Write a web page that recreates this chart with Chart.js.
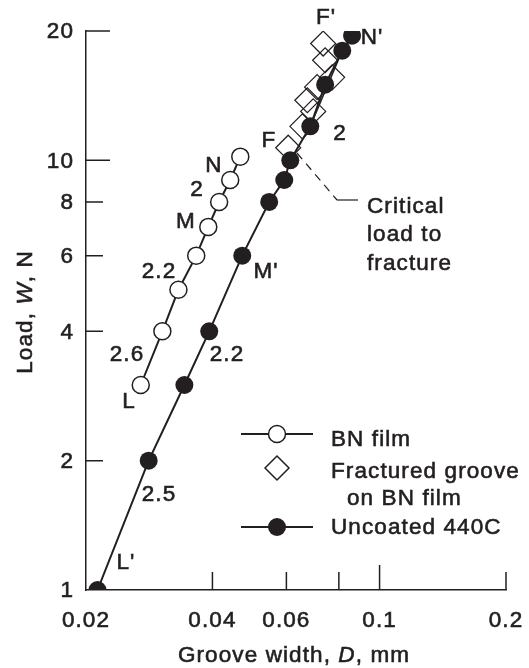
<!DOCTYPE html>
<html>
<head>
<meta charset="utf-8">
<script src="https://cdn.jsdelivr.net/npm/chart.js@4.4.1/dist/chart.umd.min.js"></script>
<style>
  html, body { margin: 0; padding: 0; background: #fff; }
  #wrap { position: relative; width: 529px; height: 668px; }
</style>
</head>
<body>
<div id="wrap"><canvas id="chart"></canvas></div>
<script>
// ---- data: groove width D (mm) vs load W (N) ----
const bnWidth = [0.0270, 0.0304, 0.0332, 0.0366, 0.0391, 0.0415, 0.0441, 0.0466];
const bnLoad  = [3, 4, 5, 6, 7, 8, 9, 10.2];

const steelWidth = [0.0213, 0.0282, 0.0343, 0.0393, 0.0471, 0.0546, 0.0593, 0.0613, 0.0684, 0.0742, 0.0815, 0.0860];
const steelLoad  = [1, 2, 3, 4, 6, 8, 9, 10, 12, 15, 18, 19.5];

const fracWidth = [0.0606, 0.0655, 0.0695, 0.0673, 0.0710, 0.0771, 0.0742, 0.0734];
const fracLoad  = [10.7, 12, 13, 13.8, 14.8, 15.6, 17.1, 18.7];

// upper 440C segment is also drawn as a straight run between these two points
const steelFitIdx = [8, 10];

const xTicks = [0.02, 0.04, 0.06, 0.08, 0.1, 0.2];
const xLabels = ['0.02', '0.04', '0.06', '', '0.1', '0.2'];
const xMajor = [0.1];
const yTicks = [1, 2, 4, 6, 8, 10, 20];
const yLabels = ['1', '2', '4', '6', '8', '10', '20'];
const yMajor = [10, 20];

// ---- text placed on the plot (canvas px) ----
const pointNotes = [
  ["F'", 326, 18], ["N'", 372, 38], ["2", 340, 134], ["F", 269, 141],
  ["N", 214, 166], ["2", 197, 190], ["M", 186, 222], ["2.2", 159, 272],
  ["M'", 266, 272], ["2.6", 127, 355], ["2.2", 227, 355], ["L", 129, 402],
  ["2.5", 159, 495], ["L'", 126, 563]
];

const INK = '#231f20';
const FONT = '"Liberation Sans", Arial, Helvetica, sans-serif';
const SIZE = 22.5;
const pts = (xs, ys) => xs.map((x, i) => ({x, y: ys[i]}));

// filled + thin stroke to get the medium weight of the print
function txt(ctx, t, x, y) {
  ctx.fillText(t, x, y);
  ctx.strokeText(t, x, y);
}

const decor = {
  id: 'decor',
  afterDraw(chart) {
    const ctx = chart.ctx;
    const xs = chart.scales.x, ys = chart.scales.y;
    ctx.save();
    ctx.letterSpacing = '1.1px';
    ctx.strokeStyle = INK;
    ctx.fillStyle = INK;
    ctx.lineWidth = 1.5;

    // inward tick marks
    ctx.beginPath();
    yTicks.forEach(v => {
      if (v === 1) return;
      const py = ys.getPixelForValue(v);
      const len = yMajor.includes(v) ? 24 : 17;
      ctx.moveTo(xs.left, py); ctx.lineTo(xs.left + len, py);
    });
    xTicks.forEach(v => {
      if (v === 0.02) return;
      const px = xs.getPixelForValue(v);
      const len = xMajor.includes(v) ? 25 : 18;
      ctx.moveTo(px, ys.bottom); ctx.lineTo(px, ys.bottom - len);
    });
    ctx.stroke();

    // leader for the critical load note
    ctx.lineWidth = 1.2;
    ctx.setLineDash([8, 6]);
    ctx.beginPath();
    ctx.moveTo(297, 153); ctx.lineTo(337, 200);
    ctx.stroke();
    ctx.setLineDash([]);
    ctx.beginPath();
    ctx.moveTo(337, 200); ctx.lineTo(358, 200);
    ctx.stroke();

    ctx.font = SIZE + 'px ' + FONT;
    ctx.lineWidth = 0.6;

    // tick labels
    ctx.textAlign = 'right';
    ctx.textBaseline = 'middle';
    yTicks.forEach((v, i) => txt(ctx, yLabels[i], 74, ys.getPixelForValue(v) + 1));
    ctx.textAlign = 'center';
    ctx.textBaseline = 'alphabetic';
    xTicks.forEach((v, i) => txt(ctx, xLabels[i], xs.getPixelForValue(v), 627));

    ctx.textBaseline = 'middle';
    pointNotes.forEach(([t, x, y]) => txt(ctx, t, x, y));

    ctx.textAlign = 'left';
    ctx.textBaseline = 'alphabetic';
    txt(ctx, 'Critical', 367, 213);
    txt(ctx, 'load to', 367, 241);
    txt(ctx, 'fracture', 367, 270);

    // legend
    ctx.lineWidth = 2;
    ctx.beginPath();
    ctx.moveTo(241, 434); ctx.lineTo(313, 434);
    ctx.moveTo(241, 527); ctx.lineTo(313, 527);
    ctx.stroke();
    ctx.lineWidth = 1.5;
    ctx.fillStyle = '#fff';
    ctx.beginPath(); ctx.arc(277, 434, 8.5, 0, Math.PI * 2); ctx.fill(); ctx.stroke();
    ctx.beginPath();
    ctx.moveTo(265, 468); ctx.lineTo(277, 456); ctx.lineTo(289, 468); ctx.lineTo(277, 480);
    ctx.closePath(); ctx.stroke();
    ctx.fillStyle = INK;
    ctx.beginPath(); ctx.arc(277, 527, 9, 0, Math.PI * 2); ctx.fill();
    ctx.lineWidth = 0.6;
    txt(ctx, 'BN film', 331, 446);
    txt(ctx, 'Fractured groove', 331, 478);
    txt(ctx, 'on BN film', 347, 505);
    txt(ctx, 'Uncoated 440C', 331, 534);

    // axis titles with italic symbols
    const runs = (parts, x, y) => {
      const widths = parts.map(([t, it]) => { ctx.font = (it ? 'italic ' : '') + SIZE + 'px ' + FONT; return ctx.measureText(t).width; });
      let cx = x - widths.reduce((a, b) => a + b, 0) / 2;
      parts.forEach(([t, it], i) => {
        ctx.font = (it ? 'italic ' : '') + SIZE + 'px ' + FONT;
        txt(ctx, t, cx, y);
        cx += widths[i];
      });
    };
    runs([['Groove width, ', false], ['D', true], [', mm', false]], 294, 662);
    ctx.save();
    ctx.translate(32, 312);
    ctx.rotate(-Math.PI / 2);
    runs([['Load, ', false], ['W', true], [', N', false]], 0, 0);
    ctx.restore();

    ctx.restore();
  }
};

new Chart(document.getElementById('chart'), {
  type: 'scatter',
  data: {
    datasets: [
      {
        label: 'Uncoated 440C',
        data: pts(steelWidth, steelLoad),
        showLine: true,
        borderColor: INK,
        borderWidth: 2,
        pointRadius: 9,
        pointBackgroundColor: INK,
        pointBorderColor: INK,
        pointBorderWidth: 0
      },
      {
        label: 'Uncoated 440C fit',
        data: steelFitIdx.map(i => ({x: steelWidth[i], y: steelLoad[i]})),
        showLine: true,
        borderColor: INK,
        borderWidth: 1.5,
        pointRadius: 0
      },
      {
        label: 'BN film',
        data: pts(bnWidth, bnLoad),
        showLine: true,
        borderColor: INK,
        borderWidth: 2,
        pointRadius: 8.5,
        pointBackgroundColor: '#fff',
        pointBorderColor: INK,
        pointBorderWidth: 1.5
      },
      {
        label: 'Fractured groove on BN film',
        data: pts(fracWidth, fracLoad),
        showLine: false,
        pointStyle: 'rectRot',
        pointRadius: 12.5,
        pointBackgroundColor: 'rgba(255,255,255,0)',
        pointBorderColor: INK,
        pointBorderWidth: 1.2
      }
    ]
  },
  options: {
    responsive: true,
    maintainAspectRatio: false,
    animation: false,
    layout: { padding: { top: 31, right: 23, left: 0, bottom: 0 } },
    plugins: { legend: { display: false }, tooltip: { enabled: false } },
    scales: {
      x: {
        type: 'logarithmic',
        min: 0.02, max: 0.2,
        afterBuildTicks: s => { s.ticks = xTicks.map(v => ({value: v})); },
        afterFit: s => { s.height = 78; s.paddingLeft = 0; s.paddingRight = 0; },
        grid: { display: false, drawTicks: false },
        border: { display: true, color: INK, width: 1.5 },
        ticks: { display: false }
      },
      y: {
        type: 'logarithmic',
        min: 1, max: 20,
        afterBuildTicks: s => { s.ticks = yTicks.map(v => ({value: v})); },
        afterFit: s => { s.width = 86; s.paddingTop = 0; s.paddingBottom = 0; },
        grid: { display: false, drawTicks: false },
        border: { display: true, color: INK, width: 1.5 },
        ticks: { display: false }
      }
    }
  },
  plugins: [decor]
});
</script>
</body>
</html>
